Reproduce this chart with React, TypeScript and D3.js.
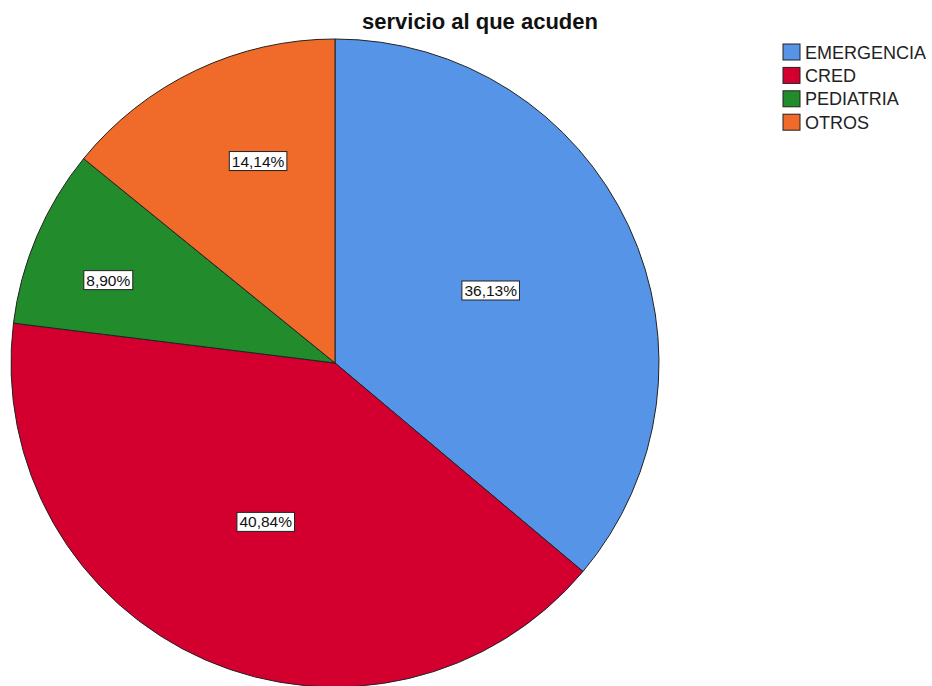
import React, { useEffect, useRef } from "react";
import * as d3 from "d3";

const categories: string[] = ["EMERGENCIA", "CRED", "PEDIATRIA", "OTROS"];
const percents: number[] = [36.13, 40.84, 8.9, 14.14];
const colors: string[] = ["#5594e6", "#d3002f", "#228b2c", "#f06a2a"];
// where SPSS dropped each label: share of the radius, and a nudge off the mid-angle (degrees)
const labelRadius: number[] = [0.53, 0.535, 0.745, 0.667];
const labelShift: number[] = [0, 0, -3, 4.6];

const W = 932;
const H = 686;

const App: React.FC = () => {
  const svgRef = useRef<SVGSVGElement | null>(null);

  useEffect(() => {
    const svg = d3.select(svgRef.current);
    svg.selectAll("*").remove();

    const cx = 335;
    const cy = 363;
    const r = 324;

    svg
      .append("text")
      .attr("x", 480)
      .attr("y", 29)
      .attr("text-anchor", "middle")
      .style("font-family", "Liberation Sans, Arial, sans-serif")
      .style("font-weight", "bold")
      .style("font-size", "22px")
      .attr("fill", "#111")
      .text("servicio al que acuden");

    const pie = d3
      .pie<number>()
      .sort(null)
      .value((d) => d);
    const arcs = pie(percents);
    const arc = d3.arc<d3.PieArcDatum<number>>().innerRadius(0).outerRadius(r);

    const g = svg.append("g").attr("transform", `translate(${cx},${cy})`);

    g.selectAll("path")
      .data(arcs)
      .join("path")
      .attr("d", arc)
      .attr("fill", (_, i) => colors[i])
      .attr("stroke", "#222")
      .attr("stroke-width", 1);

    const labels = g
      .selectAll("g.lbl")
      .data(arcs)
      .join("g")
      .attr("class", "lbl")
      .attr("transform", (d, i) => {
        const a = (d.startAngle + d.endAngle) / 2 + (labelShift[i] * Math.PI) / 180;
        const k = labelRadius[i] * r;
        return `translate(${Math.sin(a) * k},${-Math.cos(a) * k})`;
      });

    const boxes = labels
      .append("rect")
      .attr("fill", "#fff")
      .attr("stroke", "#222")
      .attr("stroke-width", 1);

    const texts = labels
      .append("text")
      .attr("text-anchor", "middle")
      .attr("y", 5.5)
      .style("font-family", "Liberation Sans, Arial, sans-serif")
      .style("font-size", "15.5px")
      .attr("fill", "#111")
      .text((_, i) => percents[i].toFixed(2).replace(".", ",") + "%");

    texts.each(function (_, i) {
      const w = (this as SVGTextElement).getComputedTextLength() + 5;
      d3.select(boxes.nodes()[i])
        .attr("x", -w / 2)
        .attr("y", -9.5)
        .attr("width", w)
        .attr("height", 19);
    });

    const legend = svg
      .append("g")
      .attr("transform", "translate(783,44)")
      .selectAll("g")
      .data(categories)
      .join("g")
      .attr("transform", (_, i) => `translate(0,${i * 23.4})`);

    legend
      .append("rect")
      .attr("width", 17)
      .attr("height", 16)
      .attr("fill", (_, i) => colors[i])
      .attr("stroke", "#222")
      .attr("stroke-width", 1);

    legend
      .append("text")
      .attr("x", 22)
      .attr("y", 14.5)
      .style("font-family", "Liberation Sans, Arial, sans-serif")
      .style("font-size", "18px")
      .attr("fill", "#222")
      .text((d) => d);
  }, []);

  return (
    <svg
      ref={svgRef}
      width={W}
      height={H}
      style={{ position: "absolute", left: 0, top: 0, background: "#fff" }}
    />
  );
};

export default App;
